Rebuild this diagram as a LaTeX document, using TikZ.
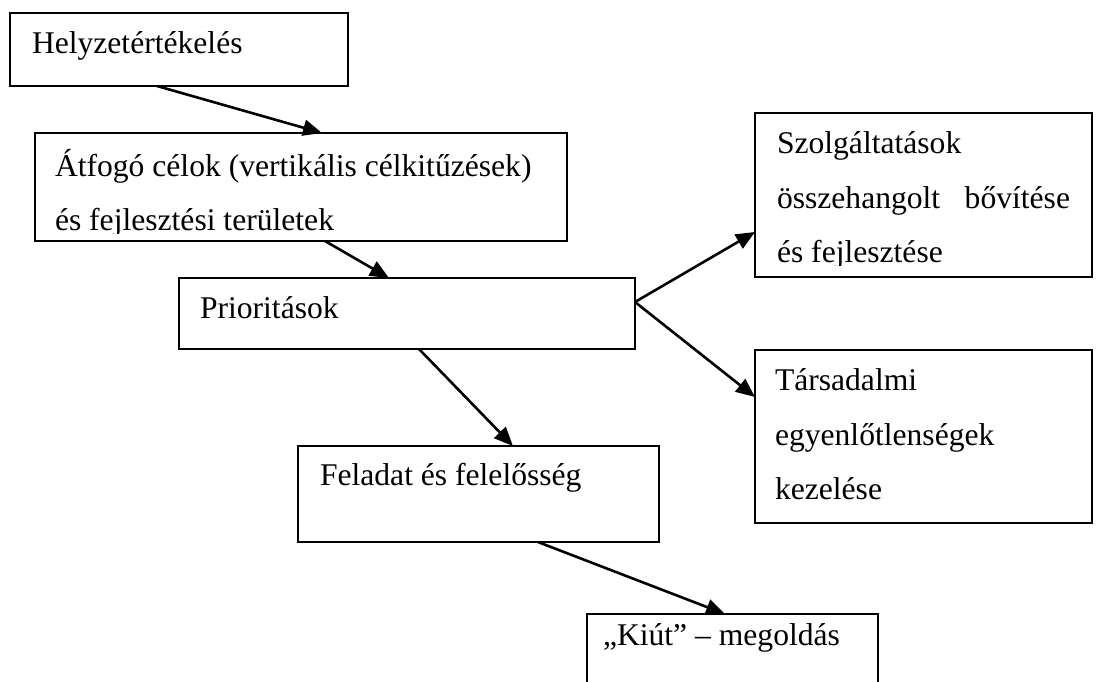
\documentclass[tikz,border=0pt]{standalone}
\usepackage{fontspec}
\setmainfont{Liberation Serif}
\usetikzlibrary{arrows.meta}
\begin{document}
\begin{tikzpicture}[x=1pt,y=-1pt,
  box/.style={draw, line width=2.2pt, rectangle, inner sep=0pt, outer sep=0pt, anchor=north west},
  lbl/.style={anchor=base west, inner sep=0pt, outer sep=0pt, font=\fontsize{31.6}{38}\selectfont},
  conn/.style={line width=2.6pt, -{Triangle[length=19pt,width=16pt]}}]
\clip (0,0) rectangle (1102,681);
\fill[white] (0,0) rectangle (1102,681);
% boxes
\node[box, minimum width=338pt, minimum height=73pt]  (b1) at (10,13) {};
\node[box, minimum width=532pt, minimum height=108pt] (b2) at (35,133) {};
\node[box, minimum width=456pt, minimum height=71pt]  (b3) at (179,278) {};
\node[box, minimum width=361pt, minimum height=96pt]  (b4) at (298,446) {};
\node[box, minimum width=291pt, minimum height=100pt] (b5) at (587,614) {};
\node[box, minimum width=337pt, minimum height=164pt] (b6) at (755,113) {};
\node[box, minimum width=337pt, minimum height=173pt] (b7) at (755,350) {};
% texts
\node[lbl] (t1) at (32,53) {Helyzetértékelés};
\node[lbl] (t2a) at (55,176) {Átfogó célok (vertikális célkitűzések)};
\begin{scope}
\clip (35,133) rectangle (567,233);
\node[lbl] (t2b) at (55,230) {és fejlesztési területek};
\end{scope}
\node[lbl] (t3) at (200,318) {Prioritások};
\node[lbl] (t4) at (320,485) {Feladat és felelősség};
\node[lbl] (t5) at (603,645) {„Kiút” – megoldás};
\node[lbl] (t6a) at (777,153) {Szolgáltatások};
\node[lbl] (t6b) at (777,208) {\makebox[293pt][s]{összehangolt bővítése}};
\begin{scope}
\clip (755,113) rectangle (1092,265);
\node[lbl] (t6c) at (777,262) {és fejlesztése};
\end{scope}
\node[lbl] (t7a) at (775,390) {Társadalmi};
\node[lbl] (t7b) at (775,445) {egyenlőtlenségek};
\node[lbl] (t7c) at (775,499) {kezelése};
% connectors
\draw[conn] ([xshift=147pt]b1.south west) -- ([xshift=287pt]b2.north west);
\draw[conn] ([xshift=290pt]b2.south west) -- ([xshift=210pt]b3.north west);
\draw[conn] ([xshift=240pt]b3.south west) -- ([xshift=215pt]b4.north west);
\draw[conn] ([xshift=240pt]b4.south west) -- ([xshift=138pt]b5.north west);
\draw[conn] ([yshift=-24pt]b3.north east) -- ([yshift=-119pt]b6.north west);
\draw[conn] ([yshift=-24pt]b3.north east) -- ([yshift=-47pt]b7.north west);
\end{tikzpicture}
\end{document}
